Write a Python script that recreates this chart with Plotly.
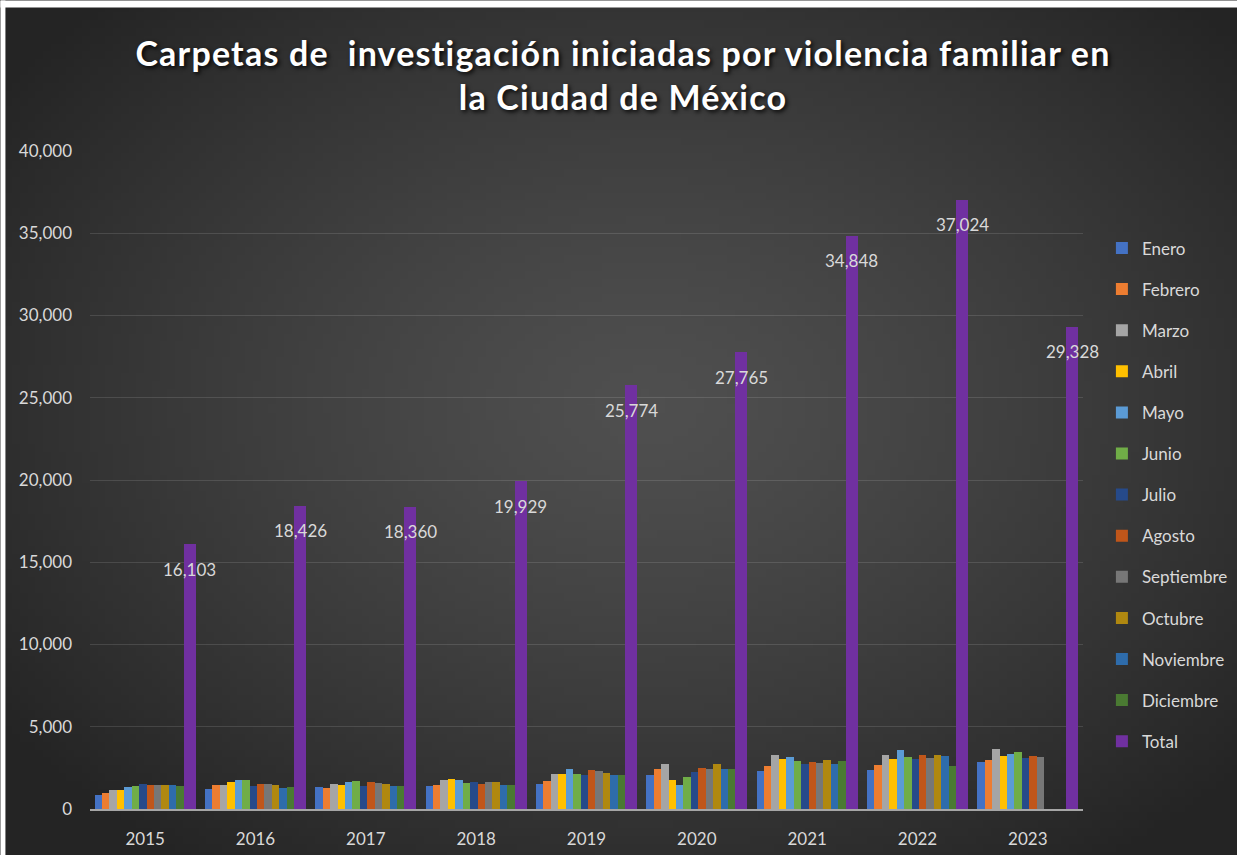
import base64
import math
import struct
import zlib

import plotly.graph_objects as go

# ---------------- data ----------------
years = ["2015", "2016", "2017", "2018", "2019", "2020", "2021", "2022", "2023"]
months = ["Enero", "Febrero", "Marzo", "Abril", "Mayo", "Junio", "Julio",
          "Agosto", "Septiembre", "Octubre", "Noviembre", "Diciembre"]

enero = [835, 1220, 1340, 1423, 1545, 2053, 2297, 2400, 2846]
febrero = [957, 1485, 1280, 1485, 1728, 2440, 2602, 2663, 3008]
marzo = [1177, 1485, 1545, 1750, 2134, 2744, 3272, 3272, 3618]
abril = [1177, 1665, 1485, 1830, 2134, 1750, 3069, 3069, 3252]
mayo = [1323, 1787, 1626, 1790, 2440, 1485, 3150, 3557, 3354]
junio = [1384, 1750, 1687, 1585, 2134, 1951, 2947, 3150, 3455]
julio = [1506, 1384, 1423, 1665, 2093, 2236, 2764, 3049, 3130]
agosto = [1485, 1545, 1626, 1545, 2358, 2500, 2846, 3293, 3232]
septiembre = [1485, 1525, 1585, 1626, 2297, 2440, 2805, 3110, 3150]
octubre = [1485, 1485, 1545, 1626, 2195, 2744, 3008, 3272, None]
noviembre = [1485, 1280, 1423, 1485, 2093, 2460, 2764, 3232, None]
diciembre = [1384, 1340, 1423, 1485, 2093, 2440, 2947, 2642, None]
total = [16103, 18426, 18360, 19929, 25774, 27765, 34848, 37024, 29328]

monthly = [enero, febrero, marzo, abril, mayo, junio, julio, agosto,
           septiembre, octubre, noviembre, diciembre]

y_ticks = [0, 5000, 10000, 15000, 20000, 25000, 30000, 35000, 40000]

title_text = ("Carpetas de  investigación iniciadas por violencia familiar en"
              "<br>la Ciudad de México")

# ---------------- styles ----------------
month_colors = ["#4472C4", "#ED7D31", "#A5A5A5", "#FFC000", "#5B9BD5", "#70AD47",
                "#264a8a", "#c0561a", "#777777", "#b08810", "#2e6cab", "#4a7a32"]
total_color = "#7030A0"
text_color = "#d9d9d9"
font_family = "Lato, 'Open Sans', sans-serif"
dark = "#262626"

W, H = 1245, 861
STRIP_X, STRIP_Y = 5, 7
ML, MR, MT, MB = 90, 157, 151, 50
plot_w = W - ML - MR
plot_h = H - MT - MB

month_w = 0.0673
total_w = 0.109
start = -0.458


# ---------------- background gradient image ----------------
def gradient_png(w, h):
    cx, cy = 0.52, 0.47
    c0, c1 = 0x4f, 0x24
    raw = bytearray()
    for j in range(h):
        raw.append(0)
        for i in range(w):
            dx = (i / (w - 1) - cx) / 0.64
            dy = (j / (h - 1) - cy) / 0.66
            r = min(1.0, math.sqrt(dx * dx + dy * dy))
            v = int(round(c0 + (c1 - c0) * r ** 1.3))
            raw += bytes((v, v, v))

    def chunk(tag, data):
        c = struct.pack(">I", len(data)) + tag + data
        return c + struct.pack(">I", zlib.crc32(tag + data) & 0xffffffff)

    png = b"\x89PNG\r\n\x1a\n"
    png += chunk(b"IHDR", struct.pack(">IIBBBBB", w, h, 8, 2, 0, 0, 0))
    png += chunk(b"IDAT", zlib.compress(bytes(raw), 9))
    png += chunk(b"IEND", b"")
    return "data:image/png;base64," + base64.b64encode(png).decode()


bg = gradient_png(160, 110)

fig = go.Figure()

for k, (name, vals) in enumerate(zip(months, monthly)):
    fig.add_trace(go.Bar(
        x=years, y=vals, name=name,
        marker=dict(color=month_colors[k], line=dict(width=0)),
        width=month_w, offset=start + k * month_w,
        legendgroup=name,
    ))

fig.add_trace(go.Bar(
    x=years, y=total, name="Total",
    marker=dict(color=total_color, line=dict(width=0)),
    width=total_w, offset=start + 12 * month_w,
    legendgroup="Total",
))

# data labels for Total (positioned on the category axis by index)
label_center = start + 12 * month_w + total_w / 2
for i, t in enumerate(total):
    fig.add_annotation(
        x=i + label_center, y=t, xref="x", yref="y",
        text=f"{t:,}", showarrow=False,
        yshift=-25, yanchor="middle", xanchor="center",
        font=dict(family=font_family, size=17, color=text_color),
    )

# dark radial-gradient background over the whole figure
fig.add_layout_image(dict(
    source=bg, xref="paper", yref="paper",
    x=-ML / plot_w, y=1 + MT / plot_h,
    sizex=(W + 4) / plot_w, sizey=(H + 4) / plot_h,
    xanchor="left", yanchor="top", sizing="stretch", layer="below",
))

# white strips at the top and left edge
fig.add_shape(type="rect", xref="paper", yref="paper", layer="above",
              x0=-ML / plot_w, x1=(STRIP_X - ML) / plot_w,
              y0=-MB / plot_h, y1=1 + MT / plot_h,
              fillcolor="white", line=dict(width=0))
fig.add_shape(type="rect", xref="paper", yref="paper", layer="above",
              x0=-ML / plot_w, x1=(W - ML) / plot_w,
              y0=1 + (MT - STRIP_Y) / plot_h, y1=1 + MT / plot_h,
              fillcolor="white", line=dict(width=0))

span_open = '<span style="letter-spacing:1.2px">'
fig.update_layout(
    width=W, height=H,
    margin=dict(l=ML, r=MR, t=MT, b=MB, pad=0),
    paper_bgcolor=dark,
    plot_bgcolor="rgba(0,0,0,0)",
    barmode="overlay",
    bargap=0,
    title=dict(
        text=span_open + title_text.replace("<br>", "</span><br>" + span_open) + "</span>",
        x=623 / W, xanchor="center",
        y=1 - 66 / H, yanchor="top", yref="container",
        font=dict(family=font_family, size=34, color="white", weight="bold",
                  shadow="2px 2px 4px rgba(0,0,0,0.9)"),
    ),
    font=dict(family=font_family, color=text_color),
    legend=dict(
        x=(1107 - ML) / plot_w, xanchor="left",
        y=1 - (496 - MT) / plot_h, yanchor="middle",
        font=dict(family=font_family, size=17, color=text_color),
        bgcolor="rgba(0,0,0,0)",
        tracegroupgap=16,
        itemwidth=30,
        traceorder="grouped",
    ),
    showlegend=True,
)

fig.update_xaxes(
    type="category",
    range=[-0.5, len(years) - 0.5],
    showline=True, linecolor="#a6a6a6", linewidth=2,
    showgrid=False, ticks="", zeroline=False,
    tickfont=dict(family=font_family, size=17, color=text_color),
    ticklabelstandoff=14,
    fixedrange=True,
)
fig.update_yaxes(
    range=[0, 40000],
    tickvals=y_ticks,
    ticktext=[f"{v:,}" for v in y_ticks],
    showgrid=True, gridcolor="rgba(255,255,255,0.12)", gridwidth=1,
    zeroline=False, showline=False, ticks="",
    tickfont=dict(family=font_family, size=17, color=text_color),
    ticklabelstandoff=17,
    fixedrange=True,
)

page_css = (
    "document.body.style.margin='0';"
    f"document.body.style.background='{dark}';"
    f"document.documentElement.style.background='{dark}';"
    "document.body.style.overflow='hidden';"
    "document.documentElement.style.overflow='hidden';"
)
fig.write_html("out.html", post_script=page_css,
               config={"displayModeBar": False})
